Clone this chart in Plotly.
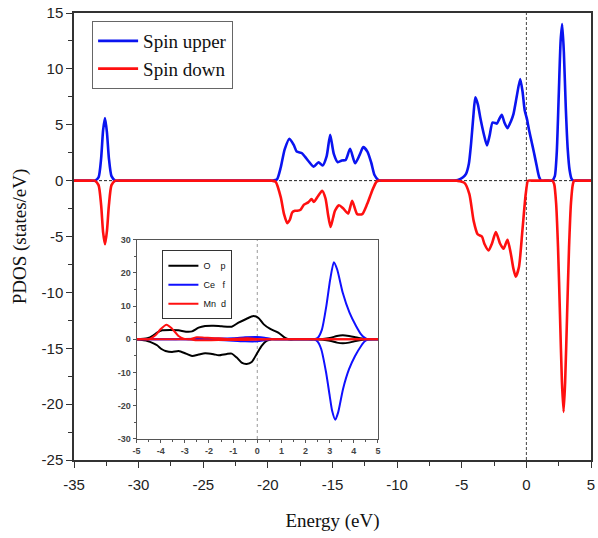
import plotly.graph_objects as go

# ---------------- main PDOS data ----------------
E_up = [-35, -33.7, -33.4, -33.1, -32.9, -32.75, -32.6, -32.45, -32.3, -32.1, -31.8, -31.5,
        -19.9, -19.6, -19.3, -19.0, -18.7, -18.33, -18.0, -17.77, -17.36, -17.1, -16.9,
        -16.46, -16.08, -15.77, -15.45, -15.18, -14.9, -14.59, -14.28, -13.98, -13.64,
        -13.25, -12.9, -12.62, -12.3, -12.0, -11.75, -11.45, -11.2, -10.9,
        -5.9, -5.6, -5.3, -4.9, -4.67, -4.45, -4.28, -4.1, -3.95, -3.75, -3.56, -3.3, -3.05,
        -2.85, -2.62, -2.4, -2.28, -2.1, -1.9, -1.7, -1.46, -1.2, -1.0, -0.75, -0.48,
        -0.3, -0.13, 0.05, 0.21, 0.4, 0.59, 0.8, 0.98, 1.15, 1.4,
        1.75, 2.0, 2.2, 2.35, 2.5, 2.65, 2.77, 2.9, 3.05, 3.2, 3.35, 3.5, 3.65, 3.9, 5]
DOS_up = [0, 0, 0, 0.3, 2.0, 4.5, 5.6, 4.3, 2.0, 0.4, 0, 0,
          0, 0, 0.1, 1.2, 2.8, 3.75, 3.2, 2.6, 2.45, 2.1, 1.8,
          1.25, 1.65, 1.35, 2.2, 4.1, 2.4, 1.65, 1.8, 1.85, 2.85,
          1.55, 2.3, 3.0, 2.6, 1.6, 0.5, 0.05, 0, 0,
          0, 0, 0.05, 0.3, 0.6, 1.5, 3.3, 5.8, 7.45, 6.8, 5.6, 4.2, 3.15,
          4.0, 5.2, 5.15, 5.1, 5.5, 5.9, 5.2, 4.7, 5.3, 5.95, 7.5, 9.1,
          8.0, 6.3, 5.5, 4.5, 3.5, 2.5, 1.3, 0.35, 0, 0,
          0, 0, 0.4, 2.5, 7.5, 12.5, 14.0, 11.5, 6.5, 2.8, 0.9, 0.15, 0, 0, 0]

E_dn = [-35, -33.7, -33.4, -33.1, -32.9, -32.75, -32.6, -32.45, -32.3, -32.1, -31.8, -31.5,
        -20.0, -19.7, -19.4, -19.0, -18.75, -18.5, -18.3, -18.12, -17.9, -17.73, -17.47,
        -17.21, -16.88, -16.62, -16.44, -16.1, -15.8, -15.54, -15.35, -15.15, -14.95,
        -14.81, -14.5, -14.2, -13.79, -13.48, -13.09, -12.7, -12.32, -11.93, -11.6, -11.4, -11.1,
        -5.7, -5.4, -5.18, -4.79, -4.41, -4.08, -3.77, -3.44, -3.25, -2.92, -2.67, -2.36,
        -2.03, -1.77, -1.46, -1.21, -1.0, -0.82, -0.57, -0.31, -0.05, 0.13, 0.4,
        1.75, 2.0, 2.15, 2.3, 2.45, 2.6, 2.75, 2.88, 3.0, 3.15, 3.3, 3.45, 3.6, 3.7, 3.95, 5]
DOS_dn = [0, 0, 0, -0.4, -2.2, -4.6, -5.7, -4.5, -2.2, -0.4, 0, 0,
          0, 0, -0.1, -1.5, -3.0, -3.8, -3.5, -2.85, -2.7, -2.7, -2.6,
          -2.15, -1.95, -1.65, -1.9, -1.35, -0.9, -1.6, -3.0, -4.15, -3.3,
          -2.7, -2.2, -2.45, -2.95, -1.8, -3.0, -3.0, -2.1, -0.9, -0.1, 0, 0,
          0, 0, -0.05, -0.2, -1.2, -3.6, -4.8, -5.0, -5.65, -6.25, -5.65, -4.6,
          -5.65, -6.1, -5.3, -6.5, -7.9, -8.6, -7.7, -4.5, -1.2, 0, 0,
          0, 0, -0.3, -2.0, -6.0, -12.0, -18.0, -20.7, -18.0, -12.0, -6.0, -2.0, -0.3, 0, 0, 0]

main_tickvals_x = [-35, -30, -25, -20, -15, -10, -5, 0, 5]
main_ticktext_x = ["-35", "-30", "-25", "-20", "-15", "-10", "-5", "0", "5"]
main_tickvals_y = [15, 10, 5, 0, -5, -10, -15, -20, -25]
main_ticktext_y = ["15", "10", "5", "0", "-5", "-10", "-15", "-20", "-25"]

# ---------------- inset data ----------------
Op_up_E = [-5, -4.55, -4.3, -4.15, -3.94, -3.6, -3.26, -2.95, -2.7, -2.43, -2.16, -1.81, -1.47,
           -1.06, -0.78, -0.44, -0.16, 0.04, 0.27, 0.52, 0.87, 1.14, 1.3, 1.6, 2.2, 2.45, 2.8, 3.06,
           3.3, 3.54, 3.8, 4.02, 4.25, 4.44, 4.6, 4.8, 5]
Op_up = [0, 0.3, 1.2, 2.0, 2.7, 2.8, 2.7, 2.3, 2.4, 3.5, 4.0, 4.1, 3.9,
         3.8, 5.0, 6.2, 7.0, 6.5, 4.5, 3.2, 2.0, 0.5, 0, 0, 0, 0, 0.2, 0.5,
         1.0, 1.2, 1.0, 0.7, 0.3, 0.1, 0, 0, 0]
Op_dn_E = [-5, -4.55, -4.3, -4.15, -3.95, -3.8, -3.53, -3.26, -2.95, -2.7, -2.43, -2.16, -1.81,
           -1.6, -1.26, -1.06, -0.85, -0.65, -0.44, -0.23, -0.03, 0.18, 0.38, 0.59, 0.9, 2.2, 2.5,
           2.8, 3.06, 3.3, 3.54, 3.8, 4.02, 4.3, 4.6, 4.8, 5]
Op_dn = [0, -0.5, -1.2, -1.8, -3.0, -3.5, -3.8, -3.5, -4.3, -5.0, -4.6, -4.2, -4.5,
         -4.8, -4.4, -4.3, -5.5, -7.0, -7.4, -6.8, -4.5, -2.0, -0.5, 0, 0, 0, 0,
         -0.2, -0.5, -1.0, -1.2, -1.0, -0.6, -0.2, 0, 0, 0]

Cef_up_E = [-5, -3.5, -3.0, -2.0, -1.0, -0.5, 0, 0.3, 0.6, 1.0, 2.0, 2.35, 2.51, 2.68, 2.86,
            3.02, 3.17, 3.31, 3.54, 3.82, 4.09, 4.3, 4.44, 4.57, 4.8, 5]
Cef_up = [0, 0, 0.1, 0.2, 0.3, 0.6, 0.7, 0.5, 0.1, 0, 0, 0, 0.5, 3, 10,
          18, 23.2, 21, 14, 8, 4, 1.5, 0.5, 0, 0, 0]
Cef_dn_E = [-5, -3.5, -2.0, -1.0, -0.5, 0, 0.3, 0.6, 1.0, 2.0, 2.35, 2.5, 2.65, 2.85, 3.0, 3.1,
            3.23, 3.35, 3.55, 3.8, 4.05, 4.3, 4.45, 4.6, 4.8, 5]
Cef_dn = [0, 0, -0.1, -0.4, -0.6, -0.6, -0.3, 0, 0, 0, 0, -0.7, -3, -10, -17, -21.5,
          -24.2, -22, -15, -9, -5, -2, -0.6, 0, 0, 0]

Mnd_up_E = [-5, -4.7, -4.49, -4.22, -4.01, -3.76, -3.53, -3.26, -3.05, -2.8, -2.5, -2.2, -1.9,
            -1.6, -1.2, -0.8, -0.4, 0, 0.5, 1.0, 5]
Mnd_up = [0, 0, 0, 1.2, 3.0, 4.4, 3.2, 1.0, 0.2, 0, 0.6, 0.5, 0.4,
          0.3, 0.1, 0.2, 0.3, 0.1, 0, 0, 0]
Mnd_dn_E = [-5, -3.0, -2.8, -2.5, -1.6, -0.5, 0.5, 1.0, 5]
Mnd_dn = [0, 0, 0, -0.3, -0.2, -0.2, 0, 0, 0]

inset_tickvals_x = [-5, -4, -3, -2, -1, 0, 1, 2, 3, 4, 5]
inset_ticktext_x = ["-5", "-4", "-3", "-2", "-1", "0", "1", "2", "3", "4", "5"]
inset_tickvals_y = [30, 20, 10, 0, -10, -20, -30]
inset_ticktext_y = ["30", "20", "10", "0", "-10", "-20", "-30"]

BLUE = "#0a14f0"
RED = "#ff1010"
SM = 0.6

fig = go.Figure()

# main traces
fig.add_trace(go.Scatter(x=E_up, y=DOS_up, mode="lines", name="Spin upper",
                         line=dict(color=BLUE, width=2.6, shape="spline", smoothing=SM),
                         xaxis="x", yaxis="y", legend="legend"))
fig.add_trace(go.Scatter(x=E_dn, y=DOS_dn, mode="lines", name="Spin down",
                         line=dict(color=RED, width=2.6, shape="spline", smoothing=SM),
                         xaxis="x", yaxis="y", legend="legend"))

# inset traces
ins = [
    ("O\u00a0\u00a0\u00a0\u00a0p", "black", Op_up_E, Op_up, Op_dn_E, Op_dn),
    ("Ce\u00a0\u00a0\u00a0f", "#1010ff", Cef_up_E, Cef_up, Cef_dn_E, Cef_dn),
    ("Mn\u00a0\u00a0d", "#ff1010", Mnd_up_E, Mnd_up, Mnd_dn_E, Mnd_dn),
]
for name, col, xu, yu, xd, yd in ins:
    fig.add_trace(go.Scatter(x=xu, y=yu, mode="lines", name=name, legendgroup=name,
                             line=dict(color=col, width=2, shape="spline", smoothing=SM),
                             xaxis="x2", yaxis="y2", legend="legend2"))
    fig.add_trace(go.Scatter(x=xd, y=yd, mode="lines", name=name, legendgroup=name,
                             showlegend=False,
                             line=dict(color=col, width=2, shape="spline", smoothing=SM),
                             xaxis="x2", yaxis="y2", legend="legend2"))

tickfont_main = dict(family="Liberation Sans, Arial", size=15, color="#222")
inset_font = dict(family="Liberation Sans, Arial", size=9, color="#444", weight="bold")
fig.update_layout(
    width=598, height=538,
    margin=dict(l=74, r=4, t=12, b=78),
    paper_bgcolor="white", plot_bgcolor="white",
    xaxis=dict(domain=[0, 1], range=[-35, 5],
               tickmode="array", tickvals=main_tickvals_x, ticktext=main_ticktext_x,
               ticks="outside", ticklen=6, tickwidth=1, tickcolor="#333",
               minor=dict(dtick=2.5, tick0=-35, ticks="outside", ticklen=4, tickcolor="#333"),
               showline=True, linecolor="#333", linewidth=1.5, mirror=True,
               showgrid=False, zeroline=False, tickfont=tickfont_main,
               ticklabelstandoff=4,
               title=dict(text="Energy (eV)", standoff=22,
                          font=dict(family="Liberation Serif, Times New Roman", size=19, color="#111"))),
    yaxis=dict(domain=[0, 1], range=[-25, 15],
               tickmode="array", tickvals=main_tickvals_y, ticktext=main_ticktext_y,
               ticks="outside", ticklen=6, tickwidth=1, tickcolor="#333",
               minor=dict(dtick=2.5, tick0=-25, ticks="outside", ticklen=4, tickcolor="#333"),
               showline=True, linecolor="#333", linewidth=1.5, mirror=True,
               showgrid=False, zeroline=False, tickfont=tickfont_main,
               title=dict(text="PDOS (states/eV)", standoff=10,
                          font=dict(family="Liberation Serif, Times New Roman", size=19, color="#111"))),
    xaxis2=dict(domain=[0.121, 0.588], anchor="y2", range=[-5, 5],
                tickmode="array", tickvals=inset_tickvals_x, ticktext=inset_ticktext_x,
                ticks="outside", ticklen=3, tickcolor="#555",
                minor=dict(dtick=0.5, tick0=-5, ticks="outside", ticklen=2, tickcolor="#555"),
                showline=True, linecolor="#555", linewidth=1, mirror=True,
                showgrid=False, zeroline=False, tickfont=inset_font),
    yaxis2=dict(domain=[0.047, 0.493], anchor="x2", range=[-30, 30],
                tickmode="array", tickvals=inset_tickvals_y, ticktext=inset_ticktext_y,
                ticks="outside", ticklen=3, tickcolor="#555",
                minor=dict(dtick=5, tick0=-30, ticks="outside", ticklen=2, tickcolor="#555"),
                showline=True, linecolor="#555", linewidth=1, mirror=True,
                showgrid=False, zeroline=False, tickfont=inset_font),
    legend=dict(x=0.035, y=0.982, xanchor="left", yanchor="top",
                bgcolor="white", bordercolor="#666", borderwidth=1,
                font=dict(family="Liberation Serif, Times New Roman", size=19, color="#111"),
                tracegroupgap=0, itemwidth=40),
    legend2=dict(x=0.171, y=0.469, xanchor="left", yanchor="top",
                 bgcolor="white", bordercolor="#333", borderwidth=1,
                 font=dict(family="Liberation Sans, Arial", size=9, color="#111"),
                 tracegroupgap=0, itemwidth=30),
    shapes=[
        dict(type="line", xref="x", yref="y", x0=-35, x1=5, y0=0, y1=0,
             line=dict(color="#222", width=1, dash="3px,2px"), layer="below"),
        dict(type="line", xref="x", yref="y", x0=0, x1=0, y0=-25, y1=15,
             line=dict(color="#444", width=1, dash="3px,2px"), layer="below"),
        dict(type="line", xref="x2", yref="y2", x0=0, x1=0, y0=-30, y1=30,
             line=dict(color="#999", width=1, dash="dot"), layer="below"),
    ],
)

fig.write_html("out.html")
